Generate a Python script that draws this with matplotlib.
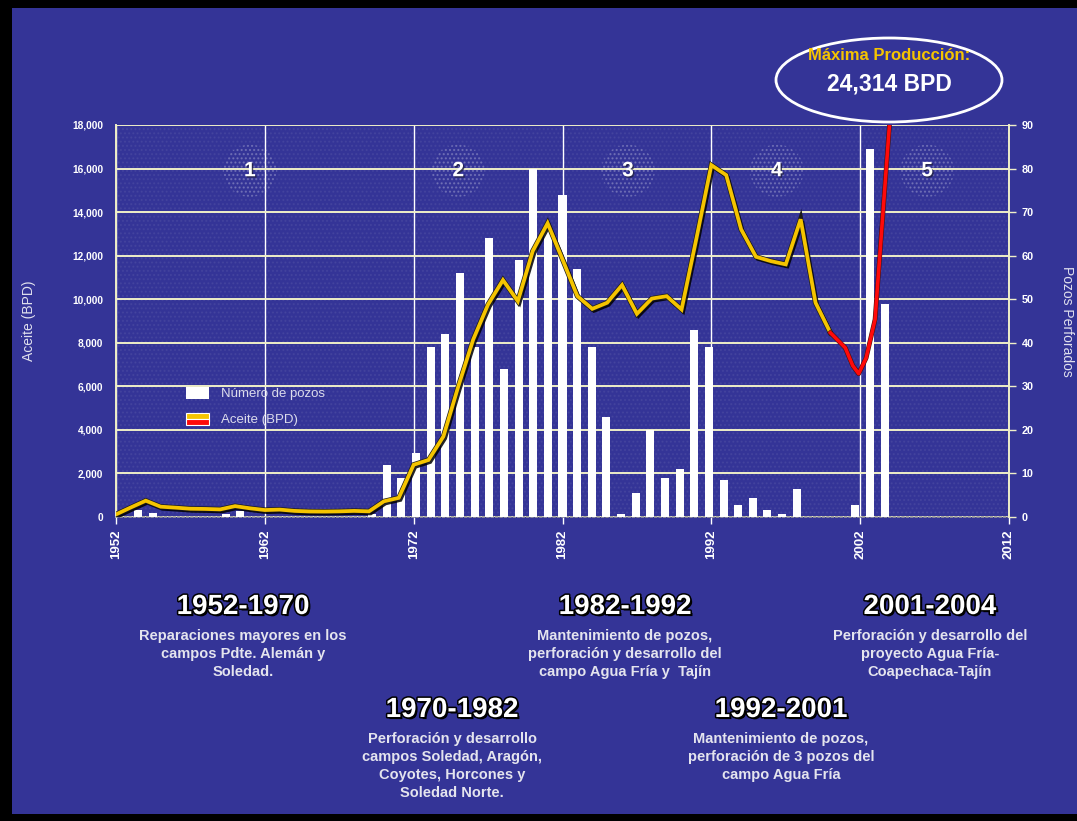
import matplotlib
matplotlib.use('Agg')
import matplotlib.pyplot as plt
import matplotlib.patheffects as pe
from matplotlib.patches import Ellipse, Rectangle
from matplotlib.legend_handler import HandlerBase
import numpy as np

# ---------------- data ----------------
line_years = list(range(1952, 2001))
aceite_bpd = [120, 440, 750, 474, 430, 380, 370, 350, 500, 400,
              320, 340, 280, 255, 250, 260, 280, 260, 720, 880,
              2400, 2620, 3700, 6000, 8150, 9760, 10880, 9910, 12210, 13490,
              11830, 10140, 9560, 9840, 10650, 9330, 10030, 10140, 9530, 12800,
              16160, 15700, 13210, 11950, 11750, 11600, 13670, 9840, 8460]
red_years = [2000, 2001, 2001.5, 2001.9, 2002.4, 2003, 2004]
red_bpd = [8460, 7770, 6950, 6580, 7300, 9070, 18300]

category_years = list(range(1952, 2013))
bar_years = list(range(1952, 2005))
pozos = [0, 1.5, 1, 0, 0, 0, 0, 0.8, 1.3, 0,
         0, 0, 0, 0, 0, 0, 0, 0.8, 12, 9,
         14.7, 39, 42, 56, 39, 64, 34, 59, 80, 66,
         74, 57, 39, 23, 0.7, 5.6, 20, 9, 11, 43,
         39, 8.4, 2.8, 4.4, 1.6, 0.7, 6.4, 0, 0, 0,
         2.8, 84.5, 49]

phase_labels = ['1', '2', '3', '4', '5']
phase_x = [1961, 1975, 1986.4, 1996.4, 2006.5]

periods = ['1952-1970', '1970-1982', '1982-1992', '1992-2001', '2001-2004']
period_text = [
    'Reparaciones mayores en los\ncampos Pdte. Alemán y\nSoledad.',
    'Perforación y desarrollo\ncampos Soledad, Aragón,\nCoyotes, Horcones y\nSoledad Norte.',
    'Mantenimiento de pozos,\nperforación y desarrollo del\ncampo Agua Fría y  Tajín',
    'Mantenimiento de pozos,\nperforación de 3 pozos del\ncampo Agua Fría',
    'Perforación y desarrollo del\nproyecto Agua Fría-\nCoapechaca-Tajín',
]
period_pos = [(243, 607), (452, 710), (625, 607), (781, 710), (930, 607)]

# ---------------- style ----------------
BLUE = '#343497'
YELLOW = '#f5c400'
CREAM = '#efefc8'
W, H = 1077, 821

fig = plt.figure(figsize=(W / 100, H / 100), dpi=100, facecolor=BLUE)
rect = [116 / W, 1 - 517 / H, (1009 - 116) / W, (517 - 125) / H]

# background axes: grid + left axis + x axis
ax = fig.add_axes(rect, label='bg')
ax.set_facecolor(BLUE)
ax.set_xlim(1952, 2012)
ax.set_ylim(0, 18000)
ax.set_yticks(np.arange(0, 18001, 2000))
ax.set_yticklabels([f'{v:,}' for v in range(0, 18001, 2000)])
ax.set_xticks(range(1952, 2013, 10))
ax.tick_params(axis='y', colors='white', labelsize=7.3, length=0, pad=9)
ax.tick_params(axis='x', colors='white', labelsize=9.5, length=5, width=1, rotation=90, pad=4)
for lab in ax.get_yticklabels() + ax.get_xticklabels():
    lab.set_fontweight('bold')
    lab.set_family('Liberation Sans')
ax.grid(axis='y', color=CREAM, lw=1.4)
ax.grid(axis='x', color='white', lw=1.0)
for s in ['top', 'right']:
    ax.spines[s].set_visible(False)
ax.spines['left'].set_color(CREAM)
ax.spines['left'].set_linewidth(1.4)
ax.spines['bottom'].set_color('#9a9a9a')
ax.spines['bottom'].set_linestyle(':')
ax.spines['bottom'].set_linewidth(1.2)
ax.set_ylabel('Aceite (BPD)', color='#e0e0ee', fontsize=10, family='Liberation Sans', labelpad=26)

# subtle dotted texture
tex = Rectangle((0, 0), 1, 1, transform=ax.transAxes, facecolor='none',
                edgecolor=(0.75, 0.75, 0.85, 0.09), hatch='....', lw=0, zorder=0.5)
ax.add_patch(tex)

# bar axes (category axis 1952..2012)
axb = fig.add_axes(rect, label='bars')
axb.patch.set_alpha(0)
axb.set_xlim(-0.5, len(category_years) - 0.5)
axb.set_ylim(0, 90)
bar_pos = [category_years.index(y) for y in bar_years]
bars = axb.bar(bar_pos, pozos, width=0.55, color='white', zorder=2, label='Número de pozos')
axb.set_xticks([])
axb.yaxis.tick_right()
axb.yaxis.set_label_position('right')
axb.set_yticks(range(0, 91, 10))
axb.tick_params(axis='y', colors=CREAM, labelcolor='white', labelsize=7.8, length=5, width=1, pad=4)
for lab in axb.get_yticklabels():
    lab.set_fontweight('bold')
    lab.set_family('Liberation Sans')
for s in ['top', 'left', 'bottom']:
    axb.spines[s].set_visible(False)
axb.spines['right'].set_color(CREAM)
axb.spines['right'].set_linewidth(1.4)
axb.set_ylabel('Pozos Perforados', color='#e0e0ee', fontsize=10, family='Liberation Sans',
               rotation=-90, labelpad=29)

# line axes
axl = fig.add_axes(rect, label='line')
axl.patch.set_alpha(0)
axl.set_xlim(1952, 2012)
axl.set_ylim(0, 18000)
axl.axis('off')
shadow = [pe.SimpleLineShadow(offset=(1.2, -1.5), shadow_color='black', alpha=0.85),
          pe.Stroke(linewidth=3.7, foreground='#1a1a1a'), pe.Normal()]
yl, = axl.plot(line_years, aceite_bpd, color=YELLOW, lw=2.7, solid_joinstyle='miter',
               path_effects=shadow, zorder=5, clip_on=True, label='Aceite (BPD)')
axl.plot(red_years, red_bpd, color='#ff0a0a', lw=2.6,
         path_effects=[pe.Stroke(linewidth=3.4, foreground='#401010'), pe.Normal()],
         zorder=6, clip_on=True)

# phase numbers with dotted halo
for lab, x in zip(phase_labels, phase_x):
    halo = Ellipse((x, 15900), 3.6, 2400, facecolor='none',
                   edgecolor=(0.8, 0.8, 0.9, 0.28), hatch='....', lw=0, zorder=3)
    axl.add_patch(halo)
    axl.text(x, 15900, lab, color='white', fontsize=15, fontweight='bold', ha='center',
             va='center', family='Liberation Sans', zorder=4,
             path_effects=[pe.withSimplePatchShadow(offset=(1, -1), shadow_rgbFace='#202040', alpha=0.8)])


class StripeHandler(HandlerBase):
    def create_artists(self, legend, orig_handle, xdescent, ydescent, width, height, fontsize, trans):
        top = Rectangle((-xdescent, -ydescent + height * 0.5), width, height * 0.5,
                        facecolor=YELLOW, edgecolor='white', lw=0.8, transform=trans)
        bot = Rectangle((-xdescent, -ydescent), width, height * 0.5,
                        facecolor='#ff0a0a', edgecolor='white', lw=0.8, transform=trans)
        return [top, bot]


leg = axl.legend([bars, yl], ['Número de pozos', 'Aceite (BPD)'],
                 handler_map={yl: StripeHandler()},
                 loc='upper left', bbox_to_anchor=(0.065, 0.362), frameon=False,
                 labelcolor='#dcdcec', prop={'family': 'Liberation Sans', 'size': 9.5},
                 handlelength=1.75, handleheight=1.0, labelspacing=0.95, handletextpad=0.9)

# max production ellipse
fig.patches.append(Ellipse((889 / W, 1 - 80 / H), 226 / W, 84 / H, transform=fig.transFigure,
                           facecolor='none', edgecolor='white', lw=2))
fig.text(889 / W, 1 - 56 / H, 'Máxima Producción:', color='#f5c400', fontsize=12,
         fontweight='bold', ha='center', va='center', family='Liberation Sans')
fig.text(889 / W, 1 - 84 / H, '24,314 BPD', color='white', fontsize=16.5,
         fontweight='bold', ha='center', va='center', family='Liberation Sans')

# period notes
head_fx = [pe.withSimplePatchShadow(offset=(1.5, -1.5), shadow_rgbFace='black', alpha=1),
           pe.Stroke(linewidth=2.2, foreground='black'), pe.Normal()]
for per, txt, (px, py) in zip(periods, period_text, period_pos):
    fig.text(px / W, 1 - py / H, per, color='white', fontsize=20, fontweight='bold',
             ha='center', va='center', family='Liberation Sans', path_effects=head_fx)
    fig.text(px / W, 1 - (py + 22) / H, txt, color='#e4e4ee', fontsize=10.5, fontweight='bold',
             ha='center', va='top', family='Liberation Sans', linespacing=1.36)

# black frame
for r in [(0, 0, 12 / W, 1), (0, 1 - 8 / H, 1, 8 / H), (0, 0, 1, 7 / H)]:
    fig.patches.append(Rectangle(r[:2], r[2], r[3], transform=fig.transFigure,
                                 facecolor='black', edgecolor='none'))

fig.savefig('out.png', dpi=100, facecolor=fig.get_facecolor())
